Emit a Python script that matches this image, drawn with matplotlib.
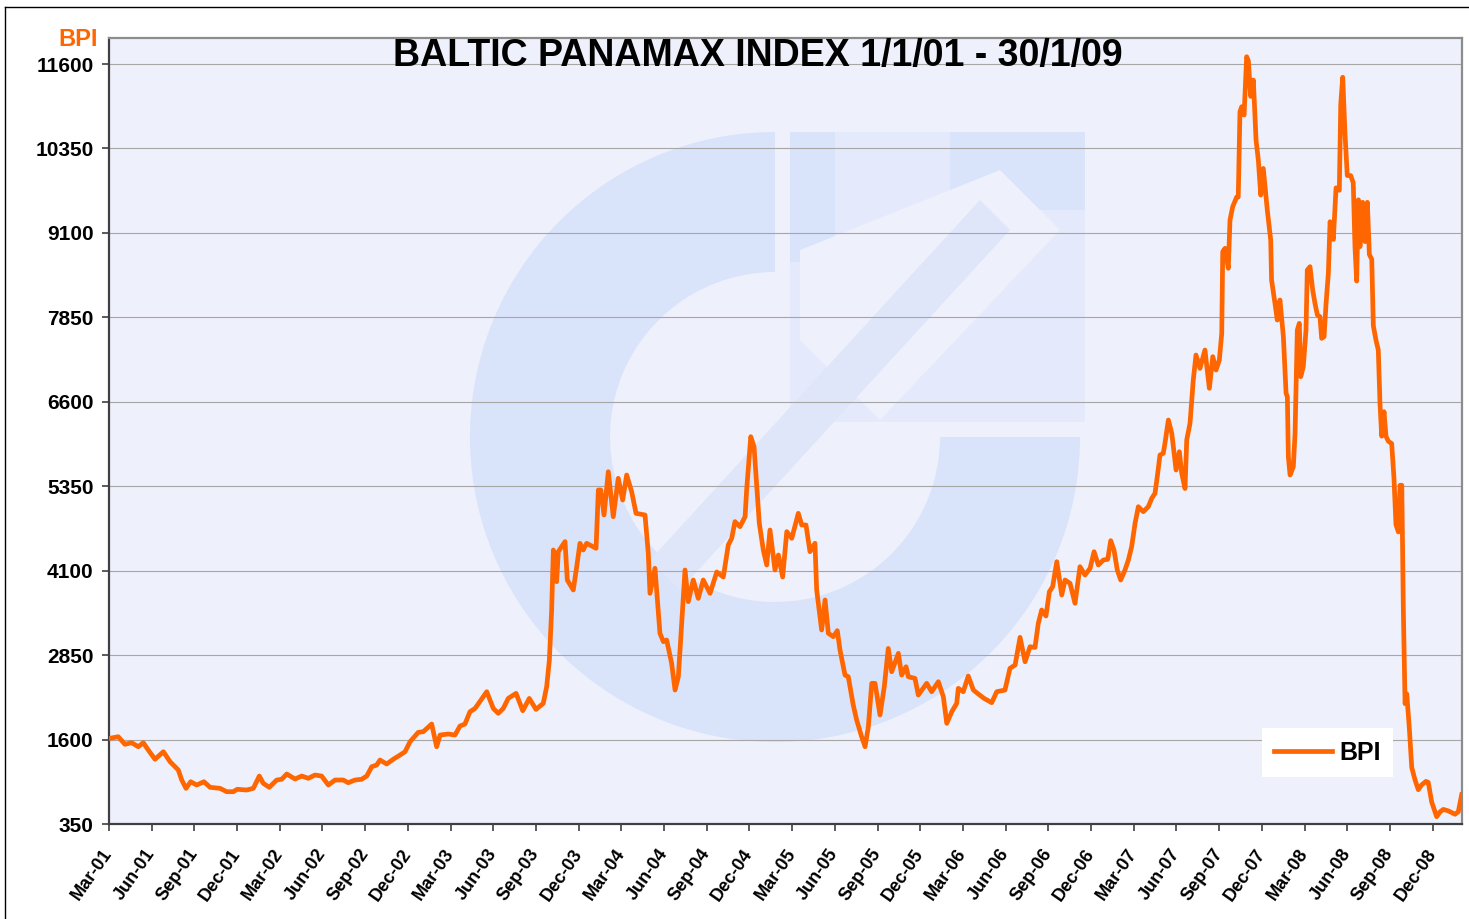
import matplotlib
matplotlib.use('Agg')
import matplotlib.pyplot as plt
from matplotlib.patches import Wedge, Rectangle, Polygon

# months after 1 Mar 2001 (position on the axis) and BPI value
t_months = [0.07, 0.65, 1.12, 1.59, 2.06, 2.41, 2.76, 3.23, 3.82, 4.29, 4.87, 5.11, 5.41, 5.74, 6.16,
            6.67, 7.10, 7.80, 8.27, 8.73, 9.01, 9.67, 10.14, 10.56, 10.84, 11.26, 11.78, 12.13, 12.49,
            13.07, 13.54, 14.00, 14.47, 14.94, 15.41, 15.88, 16.46, 16.81, 17.28, 17.75, 18.11, 18.46,
            18.81, 19.04, 19.51, 19.97, 20.45, 20.80, 21.15, 21.73, 22.08, 22.67, 23.02, 23.26, 23.84,
            24.31, 24.66, 25.01, 25.36, 25.72, 26.54, 27.00, 27.35, 27.70, 28.05, 28.60, 29.07, 29.53,
            30.00, 30.51, 30.75, 30.94, 31.10, 31.22, 31.45, 31.57, 32.04, 32.20, 32.62, 32.86, 33.09,
            33.32, 33.56, 34.22, 34.38, 34.55, 34.78, 35.08, 35.43, 35.78, 36.09, 36.37, 36.72, 37.03,
            37.66, 37.89, 38.01, 38.36, 38.71, 38.95, 39.18, 39.53, 39.77, 40.00, 40.12, 40.47, 40.70,
            41.05, 41.40, 41.75, 42.23, 42.70, 43.16, 43.51, 43.75, 43.98, 44.33, 44.69, 44.80, 45.09,
            45.32, 45.51, 45.69, 45.97, 46.21, 46.44, 46.79, 47.03, 47.33, 47.62, 47.97, 48.43, 48.67,
            48.97, 49.25, 49.60, 49.72, 50.07, 50.31, 50.54, 50.89, 51.17, 51.36, 51.71, 51.94, 52.29,
            52.53, 52.88, 53.12, 53.35, 53.59, 53.82, 54.17, 54.47, 54.75, 54.99, 55.46, 55.69, 56.00,
            56.16, 56.63, 56.86, 57.45, 57.80, 58.27, 58.62, 58.86, 59.21, 59.56, 59.67, 60.02, 60.37,
            60.73, 61.08, 61.48, 62.02, 62.37, 62.95, 63.30, 63.66, 64.01, 64.36, 64.71, 65.06, 65.29,
            65.53, 65.83, 66.07, 66.30, 66.59, 66.94, 67.17, 67.52, 67.87, 68.22, 68.57, 68.93, 69.21,
            69.51, 69.86, 70.17, 70.38, 70.61, 70.84, 71.08, 71.38, 71.62, 71.85, 72.09, 72.32, 72.67,
            73.02, 73.26, 73.49, 73.65, 73.84, 74.07, 74.19, 74.43, 74.67, 74.97, 75.20, 75.37, 75.60,
            75.72, 75.95, 76.18, 76.37, 76.65, 77.00, 77.31, 77.55, 77.78, 78.01, 78.18, 78.25, 78.41,
            78.64, 78.76, 78.95, 79.23, 79.34, 79.46, 79.58, 79.75, 79.93, 80.05, 80.21, 80.40, 80.59,
            80.75, 80.92, 81.10, 81.38, 81.62, 81.68, 81.92, 82.08, 82.27, 82.51, 82.70, 82.79, 82.86,
            82.98, 83.21, 83.33, 83.49, 83.63, 83.73, 83.91, 84.10, 84.19, 84.38, 84.57, 84.73, 84.90,
            85.08, 85.20, 85.37, 85.51, 85.67, 85.79, 86.02, 86.21, 86.44, 86.54, 86.68, 86.84, 87.00,
            87.24, 87.42, 87.54, 87.66, 87.78, 87.89, 88.08, 88.25, 88.41, 88.55, 88.72, 88.83, 89.02,
            89.18, 89.30, 89.42, 89.58, 89.72, 89.88, 90.12, 90.28, 90.42, 90.59, 90.71, 90.83, 90.94,
            91.06, 91.18, 91.36, 91.53, 91.76, 91.99, 92.23, 92.53, 92.69, 92.93, 93.28, 93.52, 93.75,
            94.10, 94.57, 94.80, 95.04]
bpi = [1619, 1642, 1530, 1553, 1494, 1553, 1445, 1308, 1420, 1272, 1149, 1001, 878, 976, 927,
       976, 893, 878, 828, 828, 864, 853, 878, 1060, 952, 893, 1001, 1012, 1090,
       1016, 1060, 1026, 1075, 1060, 927, 1001, 1001, 961, 1001, 1012, 1060, 1198,
       1223, 1297, 1238, 1308, 1371, 1420, 1568, 1707, 1716, 1830, 1494, 1667, 1682,
       1667, 1800, 1830, 2012, 2061, 2308, 2061, 1988, 2061, 2209, 2284, 2027, 2209,
       2046, 2136, 2382, 2777, 3518, 4406, 3937, 4382, 4530, 3962, 3814, 4159, 4505,
       4406, 4505, 4431, 5294, 5294, 4924, 5565, 4899, 5467, 5146, 5516, 5270, 4949,
       4924, 4356, 3764, 4135, 3173, 3049, 3074, 2728, 2333, 2530, 2925, 4110, 3641,
       3962, 3690, 3962, 3764, 4080, 4006, 4480, 4579, 4826, 4751, 4899, 5294, 6083,
       5935, 5343, 4801, 4406, 4184, 4702, 4110, 4332, 4006, 4678, 4579, 4949, 4776,
       4776, 4381, 4505, 3814, 3222, 3666, 3173, 3123, 3212, 2925, 2555, 2530, 2111,
       1889, 1642, 1494, 1790, 2432, 2432, 1963, 2382, 2949, 2604, 2876, 2555, 2678,
       2530, 2505, 2259, 2432, 2308, 2456, 2234, 1840, 2012, 2136, 2358, 2308, 2541,
       2333, 2274, 2210, 2146, 2308, 2333, 2654, 2703, 3113, 2752, 2974, 2964, 3320,
       3518, 3429, 3789, 3863, 4233, 3740, 3962, 3913, 3617, 4159, 4036, 4135, 4381,
       4184, 4258, 4268, 4544, 4406, 4110, 3962, 4110, 4258, 4456, 4801, 5047, 4973,
       5047, 5170, 5245, 5491, 5812, 5837, 5985, 6330, 6133, 5590, 5861, 5541, 5316,
       6034, 6281, 6922, 7292, 7095, 7366, 6799, 7268, 7070, 7218, 7613, 8822, 8872,
       8576, 9291, 9488, 9631, 9631, 10894, 10968, 10845, 11708, 11650, 11121, 11363, 10474,
       10178, 9660, 10054, 9439, 8995, 8403, 8058, 7810, 8107, 7564, 6725, 6675, 5787,
       5516, 5639, 6133, 7662, 7761, 6971, 7120, 7662, 8550, 8600, 8254, 8058, 7884,
       7860, 7539, 7564, 8058, 8501, 9266, 9003, 9767, 9731, 11004, 11404, 10568, 9949,
       9949, 9840, 8896, 8387, 9590, 8896, 9553, 8971, 9553, 8781, 8709, 7726, 7509,
       7364, 6563, 6090, 6453, 6090, 6017, 5981, 5472, 4782, 4673, 5364, 5364, 3508,
       2131, 2276, 1767, 1185, 1003, 858, 930, 981, 966, 676, 458, 531, 566,
       544, 494, 531, 785]

y_ticks = [350, 1600, 2850, 4100, 5350, 6600, 7850, 9100, 10350, 11600]
quarters = ['Mar', 'Jun', 'Sep', 'Dec']
years = ['01', '02', '03', '04', '05', '06', '07', '08']
x_labels = [q + '-' + y for y in years for q in quarters]

W, H = 1469, 919
fig = plt.figure(figsize=(W / 100, H / 100), dpi=100)
fig.patch.set_facecolor('white')

# background layer in pixel coords (y down): plot area + faded logo
bg = fig.add_axes([0, 0, 1, 1], zorder=0)
bg.set_xlim(0, W)
bg.set_ylim(H, 0)
bg.axis('off')
plot_bg = '#EEF0FC'
bg.add_patch(Rectangle((109, 38), 1353, 786, facecolor=plot_bg, edgecolor='none'))
ring = '#D9E3FA'
bg.add_patch(Wedge((775, 437), 305, 0, 270, width=140, facecolor=ring, edgecolor='none'))
bg.add_patch(Rectangle((790, 132), 295, 290, facecolor='#E4EAFB', edgecolor='none'))
bg.add_patch(Polygon([(790, 132), (835, 132), (835, 262), (790, 262)], facecolor=ring, edgecolor='none'))
bg.add_patch(Polygon([(950, 132), (1085, 132), (1085, 210), (950, 210)], facecolor=ring, edgecolor='none'))
bg.add_patch(Polygon([(800, 250), (1000, 170), (1060, 230), (880, 420), (800, 340)],
                     facecolor=plot_bg, edgecolor='none'))
bg.add_patch(Polygon([(650, 560), (680, 590), (1010, 230), (980, 200)], facecolor='#E0E6FA', edgecolor='none'))
# outer frame of the picture (left and top)
bg.plot([5, 5], [7, H], color='black', lw=1)
bg.plot([5, W], [7, 7], color='black', lw=1)

ax = fig.add_axes([109 / W, 1 - 824 / H, 1353 / W, 786 / H], zorder=1)
ax.set_facecolor('none')
ax.plot(t_months, bpi, color='#FF6600', lw=3.4, solid_joinstyle='round', label='BPI', zorder=3)

ax.set_xlim(0, 95.06)
ax.set_ylim(350, 11985)
ax.set_yticks(y_ticks)
ax.set_yticklabels([str(v) for v in y_ticks])
ax.set_xticks(range(0, 96, 3))
ax.set_xticklabels(x_labels, rotation=55, ha='right', va='center', rotation_mode='anchor')
ax.grid(axis='y', color='#A6A6A6', lw=0.8)
ax.set_axisbelow(True)

for lab in ax.get_yticklabels():
    lab.set_fontweight('bold')
    lab.set_fontsize(15)
    lab.set_family('Liberation Sans')
for lab in ax.get_xticklabels():
    lab.set_fontweight('bold')
    lab.set_fontsize(13)
    lab.set_family('Liberation Sans')
ax.tick_params(axis='y', length=5, width=1.2, pad=6, color='#404040')
ax.tick_params(axis='x', length=5, width=1.2, pad=14, color='#404040')

for s in ['left', 'bottom']:
    ax.spines[s].set_color('#404040')
    ax.spines[s].set_linewidth(1.6)
for s in ['top', 'right']:
    ax.spines[s].set_color('#8C8C8C')
    ax.spines[s].set_linewidth(1.6)

fig.text(758 / W, 1 - 56 / H, 'BALTIC PANAMAX INDEX 1/1/01 - 30/1/09', ha='center', va='center',
         fontsize=27, fontweight='bold', family='Liberation Sans')
fig.text(78 / W, 1 - 39 / H, 'BPI', ha='center', va='center', fontsize=17, fontweight='bold',
         color='#FF6600', family='Liberation Sans')

leg = ax.legend(loc='lower right', bbox_to_anchor=(1393 / W, 1 - 777 / H), bbox_transform=fig.transFigure,
                borderaxespad=0, frameon=True, fancybox=False, framealpha=1, handlelength=2.3,
                borderpad=0.5, handletextpad=0.3,
                prop={'family': 'Liberation Sans', 'weight': 'bold', 'size': 18})
leg.get_frame().set_facecolor('white')
leg.get_frame().set_edgecolor('none')

fig.savefig('out.png', dpi=100, facecolor='white')
